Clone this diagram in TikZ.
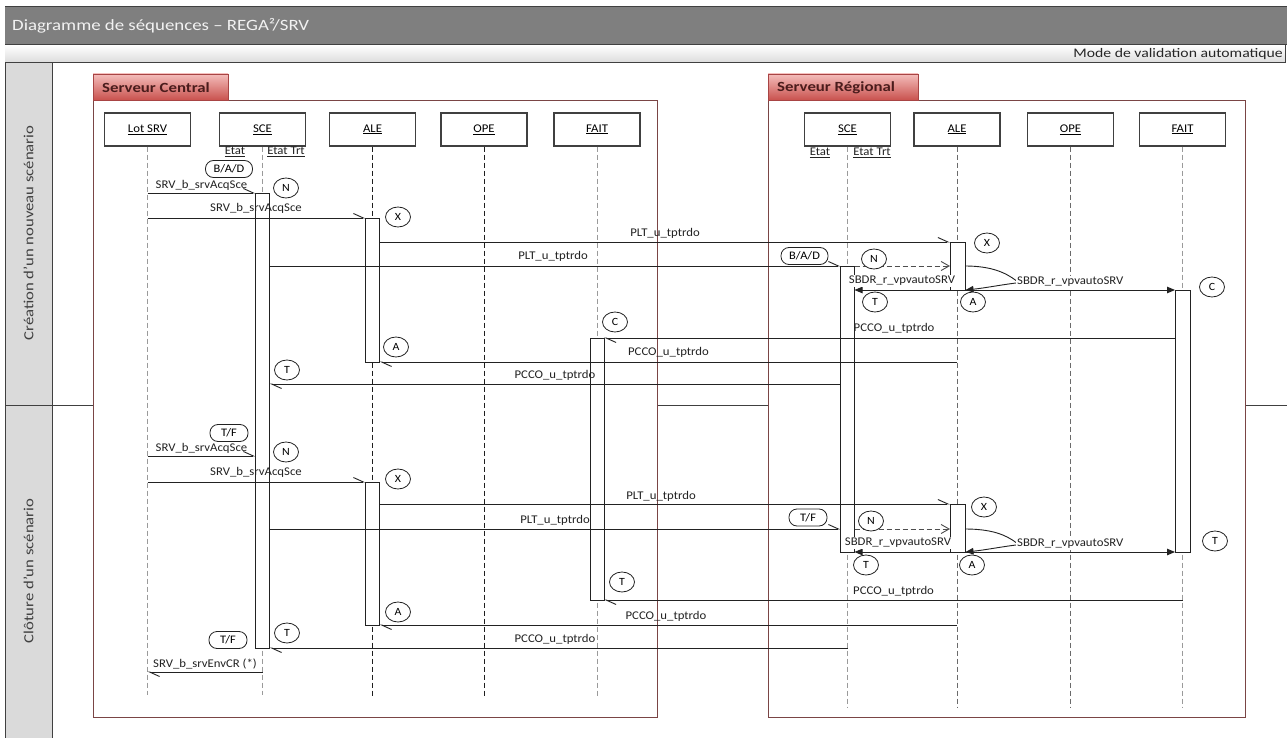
\documentclass[tikz,border=0pt]{standalone}
\usepackage{fontspec}
\setmainfont{Carlito}[FakeStretch=1.08]
\newfontfamily\widefont{Carlito}[FakeStretch=1.2]
\usetikzlibrary{arrows.meta,shapes.geometric}
\definecolor{titlegray}{HTML}{7F7F7F}
\definecolor{colgray}{HTML}{DADADA}
\definecolor{bordergray}{HTML}{404040}
\definecolor{framec}{HTML}{7A4545}
\definecolor{tabtop}{HTML}{F4BDBB}
\definecolor{tabbot}{HTML}{C9524E}
\definecolor{tabborder}{HTML}{A84444}
\definecolor{tabtext}{HTML}{4A1C1C}
\definecolor{msgc}{HTML}{222222}
\definecolor{lifelight}{HTML}{9A9A9A}
\definecolor{lifedark}{HTML}{1E1E1E}
\definecolor{lifemid}{HTML}{6A6A6A}
\tikzset{
  hb/.tip={Straight Barb[harpoon,length=10pt,width=9pt]},
  ft/.tip={Triangle[length=8pt,width=6.5pt]},
  ob/.tip={Straight Barb[length=8pt,width=9pt]},
  msg/.style={draw=msgc,line width=0.9pt,-hb},
  dmsg/.style={draw=msgc!80,line width=0.9pt,dash pattern=on 5pt off 3pt,-ob},
  fmsg/.style={draw=msgc,line width=0.9pt,-ft},
  lbl/.style={font=\fontsize{11.8}{13}\selectfont,text=msgc,inner sep=0pt},
  wlbl/.style={lbl,fill=white,inner sep=1pt},
  circ/.style={ellipse,draw=msgc,line width=0.8pt,fill=white,minimum width=25pt,minimum height=20pt,inner sep=0pt,font=\fontsize{11}{12}\selectfont},
  pill/.style={rectangle,rounded corners=8pt,draw=msgc,line width=0.8pt,fill=white,minimum height=17pt,inner sep=0pt,font=\fontsize{11.5}{12}\selectfont},
  head/.style={rectangle,draw=bordergray,line width=1.1pt,fill=white,minimum width=86pt,minimum height=33pt,inner sep=0pt,font=\fontsize{11.8}{13}\selectfont},
  life/.style={dash pattern=on 5pt off 3pt,line width=1pt},
  barst/.style={draw=msgc,line width=0.9pt,fill=white},
  framest/.style={draw=framec,line width=0.9pt,fill=white},
  tabst/.style={top color=tabtop,bottom color=tabbot,draw=tabborder,line width=0.8pt},
}
\begin{document}
\begin{tikzpicture}[x=1pt,y=-1pt]
\useasboundingbox (0,0) rectangle (1287,738);
\clip (0,0) rectangle (1287,738);
\fill[white] (0,0) rectangle (1287,738);
% ---------- outer structure ----------
\fill[colgray] (5,63) rectangle (52,745);
\draw[bordergray,line width=0.9pt] (5,405) -- (1287,405);
\draw[bordergray,line width=0.9pt] (52,63) -- (52,745);
\draw[bordergray,line width=1pt] (5,7) -- (5,745);
\fill[titlegray] (5,7) rectangle (1287,45);
\draw[bordergray,line width=1pt] (5,7) -- (1287,7);
\shade[top color=white,bottom color=black!14] (5,45) rectangle (1285,63);
\draw[bordergray,line width=1pt] (5,45) -- (1287,45);
\draw[bordergray,line width=1pt] (5,63) -- (1285,63) -- (1285,45);
\node[anchor=west,text=white!95!black,font=\widefont\fontsize{15.7}{18}\selectfont,inner sep=0pt] (title) at (12,26) {Diagramme de séquences – REGA²/SRV};
\node[anchor=east,text=black!85,font=\widefont\fontsize{13.1}{15}\selectfont,inner sep=0pt] (mode) at (1283,54) {Mode de validation automatique};
\node[rotate=90,text=black!75,font=\widefont\fontsize{13.9}{16}\selectfont,inner sep=0pt] (lane1) at (28.5,233) {Création d’un nouveau scénario};
\node[rotate=90,text=black!75,font=\widefont\fontsize{13.9}{16}\selectfont,inner sep=0pt] (lane2) at (28.5,571) {Clôture d’un scénario};
% ---------- frames ----------
\draw[framest] (93,100) rectangle (657,717);
\draw[framest] (768,100) rectangle (1245,717);
\shade[tabst] (93,74) rectangle (228,100);
\shade[tabst] (768,74) rectangle (918,100);
\node[anchor=west,text=tabtext,font=\widefont\bfseries\fontsize{14}{16}\selectfont,inner sep=0pt] (tabC) at (102,88) {Serveur Central};
\node[anchor=west,text=tabtext,font=\widefont\bfseries\fontsize{14}{16}\selectfont,inner sep=0pt] (tabR) at (777,88) {Serveur Régional};
% ---------- heads ----------
\node[head] (hLot) at (147.5,129.5) {\underline{Lot SRV}};
\node[head] (hSceC) at (262.5,129.5) {\underline{SCE}};
\node[head] (hAleC) at (372.5,129.5) {\underline{ALE}};
\node[head] (hOpeC) at (484,129.5) {\underline{OPE}};
\node[head] (hFaitC) at (597,129.5) {\underline{FAIT}};
\node[head] (hSceR) at (847.5,129.5) {\underline{SCE}};
\node[head] (hAleR) at (957,129.5) {\underline{ALE}};
\node[head] (hOpeR) at (1070.5,129.5) {\underline{OPE}};
\node[head] (hFaitR) at (1182.5,129.5) {\underline{FAIT}};
\node[lbl] (et1) at (235,152) {\underline{Etat}};
\node[lbl] (et2) at (286,152) {\underline{Etat Trt}};
\node[lbl] (et3) at (820,152.5) {\underline{Etat}};
\node[lbl] (et4) at (872,152.5) {\underline{Etat Trt}};
% ---------- lifelines ----------
\coordinate (eLot) at (147.5,695);
\coordinate (eSceC) at (262.5,695);
\coordinate (eAleC) at (372.5,698);
\coordinate (eOpeC) at (484,698);
\coordinate (eFaitC) at (597,697);
\coordinate (eSceR) at (847.5,707);
\coordinate (eAleR) at (957,707);
\coordinate (eOpeR) at (1070.5,707);
\coordinate (eFaitR) at (1182.5,707);
\draw[life,draw=lifelight] (hLot.south) -- (eLot);
\draw[life,draw=lifelight] (hSceC.south) -- (eSceC);
\draw[life,draw=lifedark] (hAleC.south) -- (eAleC);
\draw[life,draw=lifedark] (hOpeC.south) -- (eOpeC);
\draw[life,draw=lifelight] (hFaitC.south) -- (eFaitC);
\draw[life,draw=lifelight] (hSceR.south) -- (eSceR);
\draw[life,draw=lifemid] (hAleR.south) -- (eAleR);
\draw[life,draw=lifemid] (hOpeR.south) -- (eOpeR);
\draw[life,draw=lifelight] (hFaitR.south) -- (eFaitR);
% ---------- activation bars ----------
\draw[barst] (255.5,193) rectangle (269.5,648);
\draw[barst] (365.5,218) rectangle (379.5,362);
\draw[barst] (365.5,482) rectangle (379.5,625);
\draw[barst] (590,338) rectangle (604,600);
\draw[barst] (840.5,266) rectangle (854.5,552);
\draw[barst] (950,242) rectangle (965,290);
\draw[barst] (950,504) rectangle (965,552);
\draw[barst] (1175,290) rectangle (1190,552);
% ---------- messages, lane 1 ----------
\coordinate (m1a) at (147.5,193); \coordinate (m1b) at (255.5,193);
\draw[msg] (m1a) -- (m1b);
\node[lbl] (t1) at (201.5,185.5) {SRV\_b\_srvAcqSce};
\coordinate (m2a) at (147.5,218); \coordinate (m2b) at (365.5,218);
\draw[msg] (m2a) -- (m2b);
\node[lbl] (t2) at (256,208.5) {SRV\_b\_srvAcqSce};
\coordinate (m3a) at (379.5,242); \coordinate (m3b) at (950,242);
\draw[msg] (m3a) -- (m3b);
\node[lbl] (t3) at (665,233) {PLT\_u\_tptrdo};
\coordinate (m4a) at (269.5,266); \coordinate (m4b) at (840.5,266);
\draw[msg] (m4a) -- (m4b);
\node[lbl] (t4) at (553,256.5) {PLT\_u\_tptrdo};
\coordinate (m5a) at (854.5,266); \coordinate (m5b) at (950,266);
\draw[dmsg] (m5a) -- (m5b);
\coordinate (s1a) at (965,266); \coordinate (s1b) at (1016,280.5);
\coordinate (s1c) at (1016,283); \coordinate (s1d) at (965.5,290);
\draw[draw=msgc,line width=0.9pt] (s1a) .. controls (992,266) and (1006,273) .. (s1b);
\draw[fmsg] (s1c) .. controls (1000,285) and (985,288) .. (s1d);
\coordinate (m7a) at (950,290); \coordinate (m7b) at (854.5,290);
\draw[fmsg] (m7a) -- (m7b);
\coordinate (m8a) at (965,290); \coordinate (m8b) at (1175,290);
\draw[fmsg] (m8a) -- (m8b);
\node[wlbl] (t5) at (902,281) {SBDR\_r\_vpvautoSRV};
\node[wlbl,anchor=west] (t6) at (1016,282) {SBDR\_r\_vpvautoSRV};
\coordinate (m9a) at (1175,338); \coordinate (m9b) at (604,338);
\draw[msg] (m9a) -- (m9b);
\node[lbl,anchor=west] (t7) at (853.5,328.5) {PCCO\_u\_tptrdo};
\coordinate (m10a) at (957,362); \coordinate (m10b) at (379.5,362);
\draw[msg] (m10a) -- (m10b);
\node[lbl] (t8) at (668.5,352.5) {PCCO\_u\_tptrdo};
\coordinate (m11a) at (840.5,384); \coordinate (m11b) at (269.5,384);
\draw[msg] (m11a) -- (m11b);
\node[lbl] (t9) at (555,375.5) {PCCO\_u\_tptrdo};
% ---------- messages, lane 2 ----------
\coordinate (m12a) at (147.5,456); \coordinate (m12b) at (255.5,456);
\draw[msg] (m12a) -- (m12b);
\node[lbl] (t10) at (201.5,448.3) {SRV\_b\_srvAcqSce};
\coordinate (m13a) at (147.5,482); \coordinate (m13b) at (365.5,482);
\draw[msg] (m13a) -- (m13b);
\node[lbl] (t11) at (256,472.3) {SRV\_b\_srvAcqSce};
\coordinate (m14a) at (379.5,504); \coordinate (m14b) at (950,504);
\draw[msg] (m14a) -- (m14b);
\node[lbl] (t12) at (661,496.5) {PLT\_u\_tptrdo};
\coordinate (m15a) at (269.5,529); \coordinate (m15b) at (840.5,529);
\draw[msg] (m15a) -- (m15b);
\node[lbl] (t13) at (555,520) {PLT\_u\_tptrdo};
\coordinate (m16a) at (854.5,529); \coordinate (m16b) at (950,529);
\draw[dmsg] (m16a) -- (m16b);
\coordinate (s2a) at (965,529); \coordinate (s2b) at (1016,542.5);
\coordinate (s2c) at (1016,545); \coordinate (s2d) at (965.5,552);
\draw[draw=msgc,line width=0.9pt] (s2a) .. controls (992,529) and (1006,535) .. (s2b);
\draw[fmsg] (s2c) .. controls (1000,547) and (985,550) .. (s2d);
\coordinate (m18a) at (950,552); \coordinate (m18b) at (854.5,552);
\draw[fmsg] (m18a) -- (m18b);
\coordinate (m19a) at (965,552); \coordinate (m19b) at (1175,552);
\draw[fmsg] (m19a) -- (m19b);
\node[wlbl] (t14) at (898,543) {SBDR\_r\_vpvautoSRV};
\node[wlbl,anchor=west] (t15) at (1016,544) {SBDR\_r\_vpvautoSRV};
\coordinate (m20a) at (1182.5,600); \coordinate (m20b) at (604,600);
\draw[msg] (m20a) -- (m20b);
\node[lbl,anchor=west] (t16) at (853,591.5) {PCCO\_u\_tptrdo};
\coordinate (m21a) at (957,625); \coordinate (m21b) at (379.5,625);
\draw[msg] (m21a) -- (m21b);
\node[lbl] (t17) at (666,616) {PCCO\_u\_tptrdo};
\coordinate (m22a) at (847.5,648); \coordinate (m22b) at (269.5,648);
\draw[msg] (m22a) -- (m22b);
\node[lbl] (t18) at (555,639) {PCCO\_u\_tptrdo};
\coordinate (m23a) at (262.5,672); \coordinate (m23b) at (147.5,672);
\draw[msg] (m23a) -- (m23b);
\node[lbl] (t19) at (205,664) {SRV\_b\_srvEnvCR (*)};
% ---------- state markers ----------
\node[pill,minimum width=47pt] (p1) at (229,169) {B/A/D};
\node[pill,minimum width=47pt] (p2) at (804.5,256) {B/A/D};
\node[pill,minimum width=38pt] (p3) at (229,433) {T/F};
\node[pill,minimum width=38pt] (p4) at (808,517.5) {T/F};
\node[pill,minimum width=38pt] (p5) at (228,640) {T/F};
\node[circ] (c1) at (286,188) {N};
\node[circ] (c2) at (398,217) {X};
\node[circ] (c3) at (615,322) {C};
\node[circ] (c4) at (396,347) {A};
\node[circ] (c5) at (287,370) {T};
\node[circ] (c6) at (286,452) {N};
\node[circ] (c7) at (398,479) {X};
\node[circ] (c8) at (622,582) {T};
\node[circ] (c9) at (398,612) {A};
\node[circ] (c10) at (287,633) {T};
\node[circ] (c11) at (874,259) {N};
\node[circ] (c12) at (987,243) {X};
\node[circ] (c13) at (875,302) {T};
\node[circ] (c14) at (973,302) {A};
\node[circ] (c15) at (1212,287) {C};
\node[circ] (c16) at (871,521) {N};
\node[circ] (c17) at (984,507) {X};
\node[circ] (c18) at (866,565) {T};
\node[circ] (c19) at (972,565) {A};
\node[circ] (c20) at (1215,541) {T};
\end{tikzpicture}
\end{document}
